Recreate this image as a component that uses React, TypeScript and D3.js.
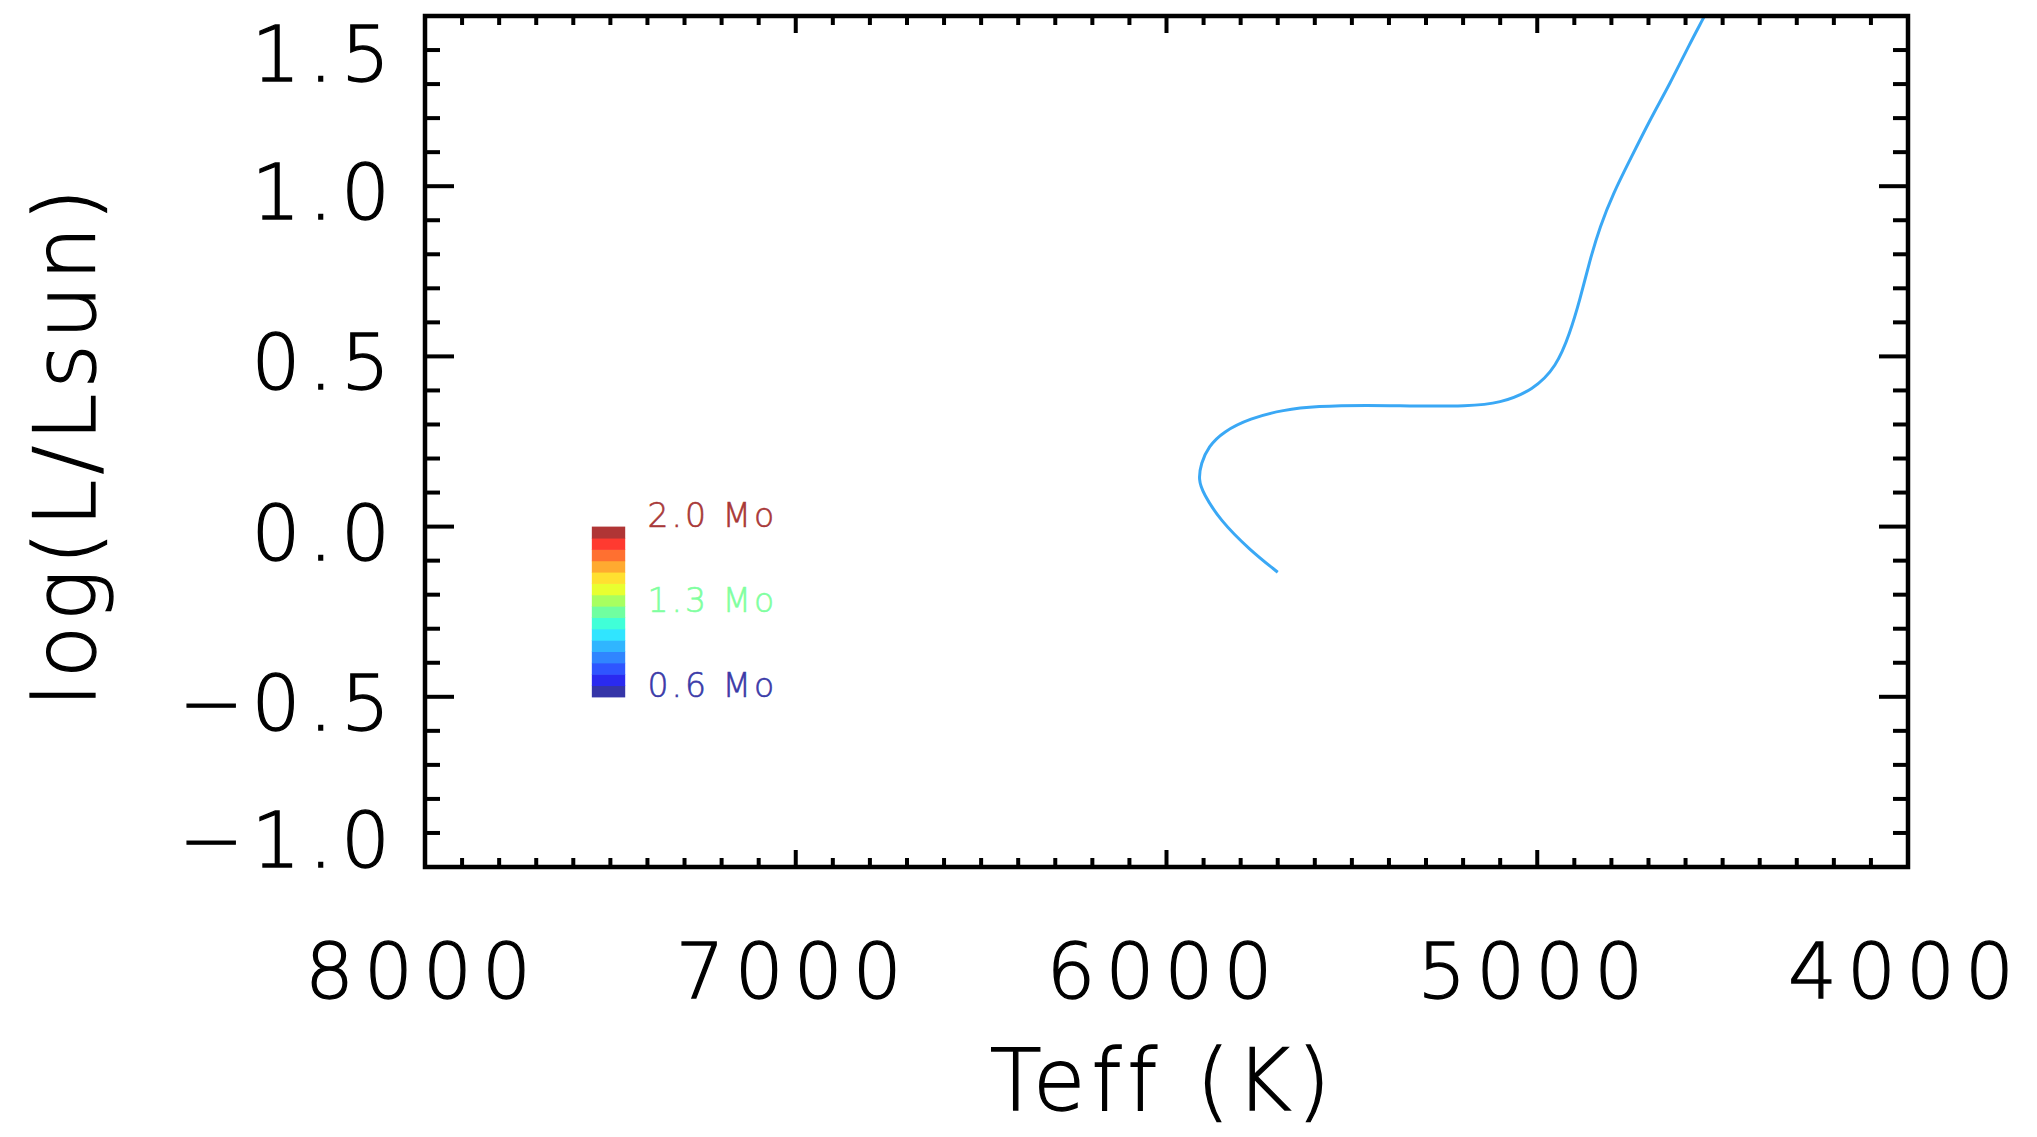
import React from "react";
import * as d3 from "d3";

// ---- data ----
const trackTeff = [5700, 5775, 5856, 5901, 5914, 5907, 5887, 5847, 5775, 5685, 5595, 5460, 5325, 5190, 5100, 5011, 4948, 4912, 4885, 4858, 4831, 4795, 4750, 4696, 4642, 4588, 4552, 4535];
const trackLogL = [-0.134, -0.069, 0.019, 0.098, 0.137, 0.186, 0.235, 0.279, 0.318, 0.343, 0.354, 0.357, 0.354, 0.354, 0.362, 0.401, 0.47, 0.568, 0.666, 0.783, 0.881, 0.979, 1.077, 1.195, 1.301, 1.42, 1.493, 1.53];
const trackColor = "#3aa8f5";

const xMajorTicks = [8000, 7000, 6000, 5000, 4000];
const yMajorTicks = [-1.0, -0.5, 0.0, 0.5, 1.0, 1.5];
const yTickLabels = ["\u22121.0", "\u22120.5", "0.0", "0.5", "1.0", "1.5"];

const barMasses = [0.6, 0.7, 0.8, 0.9, 1.0, 1.1, 1.2, 1.3, 1.4, 1.5, 1.6, 1.7, 1.8, 1.9, 2.0];
const barColors = ["#3535a8", "#2a2af0", "#2f55ff", "#3085ff", "#30b5ff", "#30e5ff", "#40ffd8", "#70ffa0", "#a8ff60", "#e8ff30", "#ffe030", "#ffaa30", "#ff7030", "#ff3a30", "#b03535"];
const barLabels = ["2.0 Mo", "1.3 Mo", "0.6 Mo"];
const barLabelMass = [2.0, 1.3, 0.6];
const barLabelColors = ["#a83838", "#80ffa0", "#3a3aa8"];
// colour bar placement in data units
const barTeff = [7550, 7460];
const barLogL = [0.0, -0.5];
const barLabelTeff = 7400;

const W = 2037, H = 1137;
const M = { left: 425, right: 1908, top: 16, bottom: 867 };

export default function App() {
  const x = d3.scaleLinear().domain([8000, 4000]).range([M.left, M.right]);
  const y = d3.scaleLinear().domain([-1.0, 1.5]).range([M.bottom, M.top]);
  const massY = d3.scaleLinear().domain([0.6, 2.0]).range([y(barLogL[1]), y(barLogL[0])]);

  const xMinor = d3.range(4000, 8001, 100);
  const yMinor = d3.range(-10, 16, 1).map((v) => v / 10);

  const line = d3
    .line<number>()
    .x((i) => x(trackTeff[i]))
    .y((i) => y(trackLogL[i]))
    .curve(d3.curveBasis);
  const idx = trackTeff.map((_, i) => i);
  const trackPath = line([0, ...idx, idx.length - 1]) || "";

  const xMajLen = 17, xMinLen = 9, yMajLen = 29, yMinLen = 15;
  const font = "'DejaVu Sans', sans-serif";
  const barTop = y(barLogL[0]);
  const barBottom = y(barLogL[1]);
  const bandH = (barBottom - barTop) / barMasses.length;
  const txt = { fontFamily: font, fontWeight: 300, fill: "#000", stroke: "#000", strokeWidth: 1.3 } as const;

  return (
    <svg width={W} height={H} style={{ position: "absolute", left: 0, top: 0, background: "#fff" }}>
      <defs>
        <clipPath id="plotclip">
          <rect x={M.left} y={M.top} width={M.right - M.left} height={M.bottom - M.top} />
        </clipPath>
      </defs>
      {/* track */}
      <path d={trackPath} fill="none" stroke={trackColor} strokeWidth={3} clipPath="url(#plotclip)" />

      {/* colour bar */}
      {barMasses.map((m, i) => (
        <rect
          key={"b" + i}
          x={x(barTeff[0])}
          width={x(barTeff[1]) - x(barTeff[0])}
          y={barBottom - (i + 1) * bandH}
          height={bandH + 0.6}
          fill={barColors[i]}
        />
      ))}
      {barLabels.map((t, i) => (
        <text
          key={"bl" + i}
          x={x(barLabelTeff)}
          y={massY(barLabelMass[i])}
          fill={barLabelColors[i]}
          stroke={barLabelColors[i]}
          strokeWidth={0.6}
          fontFamily={font}
          fontWeight={300}
          fontSize={33}
          letterSpacing={3}
        >
          {t}
        </text>
      ))}

      {/* ticks */}
      <g stroke="#000" strokeWidth={4}>
        {xMinor.map((v) => {
          const maj = v % 1000 === 0;
          const L = maj ? xMajLen : xMinLen;
          return (
            <g key={"xt" + v}>
              <line x1={x(v)} x2={x(v)} y1={M.bottom} y2={M.bottom - L} />
              <line x1={x(v)} x2={x(v)} y1={M.top} y2={M.top + L} />
            </g>
          );
        })}
        {yMinor.map((v) => {
          const maj = Math.abs(Math.round(v * 10) % 5) === 0;
          const L = maj ? yMajLen : yMinLen;
          return (
            <g key={"yt" + v}>
              <line y1={y(v)} y2={y(v)} x1={M.left} x2={M.left + L} />
              <line y1={y(v)} y2={y(v)} x1={M.right} x2={M.right - L} />
            </g>
          );
        })}
      </g>
      {/* frame */}
      <rect x={M.left} y={M.top} width={M.right - M.left} height={M.bottom - M.top} fill="none" stroke="#000" strokeWidth={4.5} />

      {/* x labels */}
      {xMajorTicks.map((v) => (
        <text key={"xl" + v} x={x(v) - 2} y={998} textAnchor="middle" fontSize={77} letterSpacing={10} {...txt}>
          {v}
        </text>
      ))}
      {/* y labels */}
      {yMajorTicks.map((v, i) => {
        const c = Math.max(M.top + 37, Math.min(M.bottom - 28, y(v) + 5));
        return (
          <text key={"yl" + v} x={398} y={c + 28} textAnchor="end" fontSize={77} letterSpacing={8} {...txt}>
            {yTickLabels[i]}
          </text>
        );
      })}

      {/* axis titles */}
      <text x={1163} y={1110} textAnchor="middle" fontSize={85} letterSpacing={6} {...txt}>
        Teff (K)
      </text>
      <text transform="translate(95,445) rotate(-90)" textAnchor="middle" fontSize={85} letterSpacing={5} {...txt}>
        log(L/Lsun)
      </text>
    </svg>
  );
}
